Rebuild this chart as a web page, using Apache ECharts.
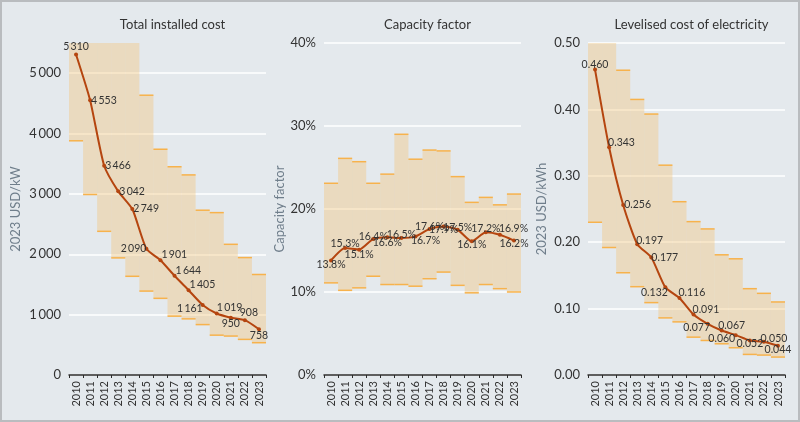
<!DOCTYPE html>
<html>
<head>
<meta charset="utf-8">
<script src="https://cdn.jsdelivr.net/npm/echarts@6/dist/echarts.min.js"></script>
<style>
html,body{margin:0;padding:0;background:#e4e9ed;}
#chart{position:absolute;left:0;top:0;width:800px;height:422px;}
#frame{position:absolute;left:0;top:0;width:800px;height:422px;box-sizing:border-box;border:2px solid #b9bcbf;pointer-events:none;}
</style>
</head>
<body>
<div id="chart"></div>
<div id="frame"></div>
<script>
// ---------- DATA ----------
var years = ['2010','2011','2012','2013','2014','2015','2016','2017','2018','2019','2020','2021','2022','2023'];

var titles = ['Total installed cost', 'Capacity factor', 'Levelised cost of electricity'];
var yNames = ['2023 USD/kW', 'Capacity factor', '2023 USD/kWh'];

// Total installed cost (2023 USD/kW)
var costAvg   = [5310, 4553, 3466, 3042, 2749, 2090, 1901, 1644, 1405, 1161, 1019, 950, 908, 758];
var costLow   = [3880, 2990, 2380, 1940, 1635, 1390, 1270, 975, 930, 835, 660, 645, 590, 535];
var costHigh  = [6200, 6000, 5900, 5700, 5600, 4635, 3740, 3450, 3315, 2730, 2690, 2165, 1945, 1665];

// Capacity factor (%)
var cfAvg  = [13.8, 15.3, 15.1, 16.4, 16.6, 16.5, 16.7, 17.6, 17.9, 17.5, 16.1, 17.2, 16.9, 16.2];
var cfLow  = [11.1, 10.2, 10.5, 11.9, 10.9, 10.9, 10.7, 11.6, 12.4, 10.8, 9.9, 10.9, 10.4, 10.0];
var cfHigh = [23.1, 26.1, 25.7, 23.1, 24.2, 29.0, 26.0, 27.1, 27.0, 23.9, 20.8, 21.4, 20.5, 21.8];

// LCOE (2023 USD/kWh)
var lcoeAvg  = [0.460, 0.343, 0.256, 0.197, 0.177, 0.132, 0.116, 0.091, 0.077, 0.067, 0.060, 0.052, 0.050, 0.044];
var lcoeLow  = [0.230, 0.192, 0.154, 0.133, 0.109, 0.086, 0.080, 0.057, 0.052, 0.047, 0.041, 0.031, 0.030, 0.027];
var lcoeHigh = [0.560, 0.520, 0.459, 0.415, 0.393, 0.316, 0.261, 0.231, 0.220, 0.181, 0.175, 0.130, 0.123, 0.110];

// Y axis ranges / ticks
var yMax = [5500, 40, 0.5];
var yStep = [1000, 10, 0.1];

// ---------- LABEL PLACEMENT (style, kept apart from data) ----------
var costLbl = [['top',0,2],['right',-3,0],['right',-3,0],['right',-3,0],['right',-3,0],['left',4,0],['right',-3,-6],
  ['right',-3,-5],['right',-3,-6],['left',4,4],['right',-4,-6],['bottom',0,-4],['top',4,2],['bottom',0,-3]];
var cfLbl = [['bottom',0,-5],['top',0,5],['bottom',0,-5],['top',0,7],['bottom',0,-4],['top',0,6],['bottom',10,-5],
  ['top',0,7],['bottom',0,-6],['top',0,7],['bottom',0,-6],['top',0,6],['right',-5,-6],['bottom',0,-6]];
var lcoeLbl = [['top',0,5],['right',-5,-5],['right',-3,0],['right',-5,-4],['right',-4,0],['bottom',-11,-4],['right',-5,-5],
  ['right',-5,-5],['bottom',-11,-6],['top',10,5],['bottom',-14,-6],['bottom',0,-6],['top',10,6],['bottom',0,-6]];

// ---------- STYLE ----------
var FONT = 'Lato';
var BG = '#e4e9ed';
var BAND_FILL = 'rgba(245,190,110,0.36)';
var EDGE = '#f7b24c';
var LINE = '#b5450f';
var TXT = '#333333';
var NAME = '#6f7e8b';

function thin(v) {
  var s = String(Math.round(v));
  if (s.length > 3) s = s.slice(0, s.length - 3) + '\u2009' + s.slice(s.length - 3);
  return s;
}
var labelFmt = [
  function (p) { return thin(p.value); },
  function (p) { return p.value.toFixed(1) + '%'; },
  function (p) { return p.value.toFixed(3); }
];
var axisFmt = [
  function (v) { return thin(v); },
  function (v) { return Math.round(v) + '%'; },
  function (v) { return v.toFixed(2); }
];

var avgs = [costAvg, cfAvg, lcoeAvg];
var lows = [costLow, cfLow, lcoeLow];
var highs = [costHigh, cfHigh, lcoeHigh];
var lbls = [costLbl, cfLbl, lcoeLbl];

var gridLeft = [69, 324, 588];
var nameGaps = [47, 34, 40];

function bandItem(params, api) {
  var i = api.value(0), lo = api.value(1), hi = api.value(2);
  var w = api.size([1, 0])[0];
  var pLo = api.coord([i, lo]);
  var pHi = api.coord([i, hi]);
  var cs = params.coordSys;
  var x0 = pLo[0] - w / 2;
  var rect = echarts.graphic.clipRectByRect(
    { x: x0, y: pHi[1], width: w, height: pLo[1] - pHi[1] },
    { x: cs.x, y: cs.y, width: cs.width, height: cs.height });
  var ch = [];
  if (rect) ch.push({ type: 'rect', shape: rect, style: { fill: BAND_FILL } });
  if (pHi[1] >= cs.y - 0.5) ch.push({ type: 'line', shape: { x1: x0, y1: pHi[1], x2: x0 + w, y2: pHi[1] }, style: { stroke: EDGE, lineWidth: 1.5 } });
  ch.push({ type: 'line', shape: { x1: x0, y1: pLo[1], x2: x0 + w, y2: pLo[1] }, style: { stroke: EDGE, lineWidth: 1.5 } });
  return { type: 'group', children: ch };
}

var option = {
  backgroundColor: BG,
  animation: false,
  textStyle: { fontFamily: FONT },
  title: [], grid: [], xAxis: [], yAxis: [], series: []
};

for (var k = 0; k < 3; k++) {
  option.title.push({
    text: titles[k], left: gridLeft[k] + 98.5, top: 13, textAlign: 'center',
    textStyle: { fontFamily: FONT, fontSize: 13, fontWeight: 'normal', color: TXT }
  });
  option.grid.push({ left: gridLeft[k], width: 197, top: 43, height: 332, containLabel: false });
  option.xAxis.push({
    type: 'category', gridIndex: k, data: years, boundaryGap: true,
    axisLine: { show: true, lineStyle: { color: '#2b2b2b', width: 1.5 } },
    axisTick: { show: true, length: 3, lineStyle: { color: '#2b2b2b' } },
    axisLabel: { rotate: 90, fontSize: 11, color: TXT, margin: 6, fontFamily: FONT, interval: 0 },
    splitLine: { show: false }
  });
  option.yAxis.push({
    type: 'value', gridIndex: k, min: 0, max: yMax[k], interval: yStep[k],
    name: yNames[k], nameLocation: 'middle', nameGap: nameGaps[k], nameRotate: 90,
    nameTextStyle: { color: NAME, fontSize: 13, fontFamily: FONT },
    axisLine: { show: false }, axisTick: { show: false },
    axisLabel: { fontSize: 13, color: TXT, margin: 8, fontFamily: FONT, formatter: axisFmt[k], showMaxLabel: k !== 0 },
    splitLine: { show: true, showMaxLine: k !== 0, lineStyle: { color: '#ffffff', width: 1.5 } }
  });
  var bandData = [];
  for (var i = 0; i < years.length; i++) bandData.push([i, lows[k][i], highs[k][i]]);
  option.series.push({
    type: 'custom', xAxisIndex: k, yAxisIndex: k, renderItem: bandItem,
    encode: { x: 0, y: [1, 2] }, data: bandData, z: 1, silent: true
  });
  var lineData = [];
  for (var j = 0; j < years.length; j++) {
    var L = lbls[k][j];
    lineData.push({ value: avgs[k][j], label: { position: L[0], offset: [L[1], L[2]] } });
  }
  option.series.push({
    type: 'line', xAxisIndex: k, yAxisIndex: k, data: lineData, z: 5,
    smooth: 0.2, symbol: 'circle', symbolSize: 4,
    lineStyle: { color: LINE, width: 2 }, itemStyle: { color: LINE },
    label: { show: true, fontSize: 10.5, color: TXT, fontFamily: FONT, distance: 2, formatter: labelFmt[k] }
  });
}

var chart = echarts.init(document.getElementById('chart'), null, { renderer: 'canvas' });
chart.setOption(option);
</script>
</body>
</html>
